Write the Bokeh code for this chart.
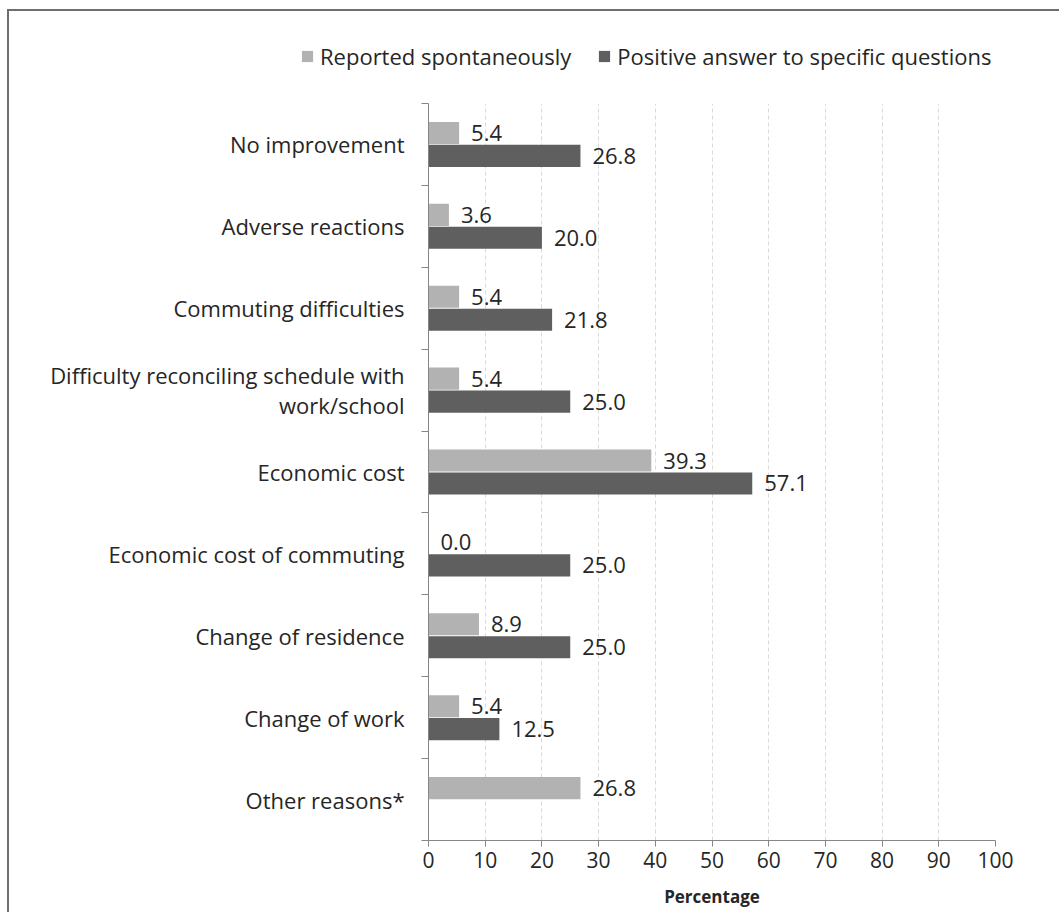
from bokeh.plotting import figure
from bokeh.layouts import column
from bokeh.models import (ColumnDataSource, FixedTicker, Legend, LegendItem)
from bokeh.core.properties import value
from bokeh.embed import file_html
from bokeh.resources import INLINE

categories = ["No improvement", "Adverse reactions", "Commuting difficulties",
              "Difficulty reconciling schedule with\nwork/school", "Economic cost",
              "Economic cost of commuting", "Change of residence", "Change of work",
              "Other reasons*"]
spontaneous = [5.4, 3.6, 5.4, 5.4, 39.3, 0.0, 8.9, 5.4, 26.8]
specific = [26.8, 20.0, 21.8, 25.0, 57.1, 25.0, 25.0, 12.5, None]
series_names = ["Reported spontaneously", "Positive answer to specific questions"]
x_ticks = [0, 10, 20, 30, 40, 50, 60, 70, 80, 90, 100]

LIGHT = "#b2b2b2"
DARK = "#5f5f5f"
TEXT = "#262626"
AXIS = "#868686"
FONT = "Open Sans"

n = len(categories)
centers = [n - i - 0.5 for i in range(n)]
OFF = 0.14
BAR_H = 0.27

src_l = ColumnDataSource(dict(
    y=[c + OFF for c in centers], v=spontaneous,
    t=["%.1f" % v for v in spontaneous]))
sp_y = [c - OFF for c, v in zip(centers, specific) if v is not None]
sp_v = [v for v in specific if v is not None]
src_d = ColumnDataSource(dict(y=sp_y, v=sp_v, t=["%.1f" % v for v in sp_v]))

W = 1052

# ---- legend strip ----
top = figure(width=W, height=85, x_range=(0, 100), y_range=(100, 101),
             min_border=0, output_backend="svg", toolbar_location=None)
top.frame_align = False
top.axis.visible = False
top.grid.visible = False
top.outline_line_color = None
lr1 = top.hbar(y="y", right="v", left=0, height=BAR_H, source=src_l,
               fill_color=LIGHT, line_color=None)
lr2 = top.hbar(y="y", right="v", left=0, height=BAR_H, source=src_d,
               fill_color=DARK, line_color=None)
legend = Legend(items=[LegendItem(label=series_names[0], renderers=[lr1]),
                       LegendItem(label=series_names[1], renderers=[lr2])],
                orientation="horizontal", location=(291, 25),
                glyph_width=14, glyph_height=14, label_standoff=6, spacing=26,
                padding=0, margin=0, border_line_color=None, background_fill_alpha=0,
                label_text_font=FONT, label_text_font_size="22px", label_text_color=TEXT)
top.add_layout(legend)

# ---- main chart ----
p = figure(frame_width=567, frame_height=737,
           min_border_left=419, min_border_top=7, min_border_right=66, min_border_bottom=72,
           x_range=(0, 100), y_range=(0, n),
           output_backend="svg", toolbar_location=None)
p.frame_align = False
p.outline_line_color = None

p.hbar(y="y", right="v", left=0, height=BAR_H, source=src_l,
       fill_color=LIGHT, line_color=None)
p.hbar(y="y", right="v", left=0, height=BAR_H, source=src_d,
       fill_color=DARK, line_color=None)

for s in (src_l, src_d):
    p.text(x="v", y="y", text="t", source=s, x_offset=12,
           text_baseline="middle", text_align="left",
           text_font=value(FONT), text_font_size="22px", text_color=TEXT)

p.xaxis.ticker = FixedTicker(ticks=x_ticks)
p.xaxis.axis_label = "Percentage"
p.xaxis.axis_label_text_font = FONT
p.xaxis.axis_label_text_font_style = "bold"
p.xaxis.axis_label_text_font_size = "17px"
p.xaxis.axis_label_text_color = TEXT
p.xaxis.axis_label_standoff = 14
p.xaxis.major_label_text_font = FONT
p.xaxis.major_label_text_font_size = "21px"
p.xaxis.major_label_text_color = TEXT
p.xaxis.major_label_standoff = 5
p.xaxis.axis_line_color = AXIS
p.xaxis.major_tick_line_color = AXIS
p.xaxis.major_tick_out = 6
p.xaxis.major_tick_in = 0
p.xaxis.minor_tick_line_color = None

p.yaxis.ticker = FixedTicker(ticks=centers, minor_ticks=list(range(n + 1)))
p.yaxis.major_label_overrides = {c: lab for c, lab in zip(centers, categories)}
p.yaxis.major_label_text_font = FONT
p.yaxis.major_label_text_font_size = "22px"
p.yaxis.major_label_text_color = TEXT
p.yaxis.major_label_text_line_height = 1.0
p.yaxis.major_label_standoff = 17
p.yaxis.major_tick_line_color = None
p.yaxis.minor_tick_line_color = AXIS
p.yaxis.minor_tick_out = 7
p.yaxis.minor_tick_in = 0
p.yaxis.axis_line_color = AXIS

p.xgrid.ticker = FixedTicker(ticks=x_ticks[1:])
p.xgrid.grid_line_color = "#d9d9d9"
p.xgrid.grid_line_dash = "4 3"
p.ygrid.grid_line_color = None

layout = column(top, p, spacing=0, margin=(9, 0, 0, 7),
                styles={"border-top": "2px solid #6e6e6e", "border-left": "2px solid #6e6e6e"})

open("out.html", "w").write(file_html(layout, INLINE))
